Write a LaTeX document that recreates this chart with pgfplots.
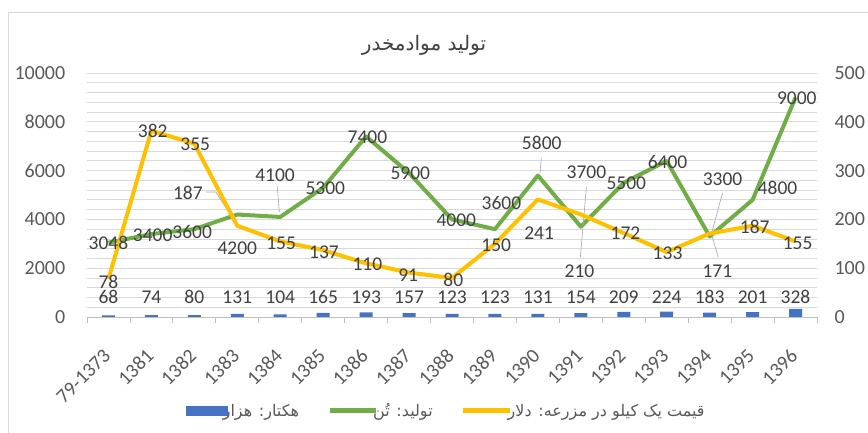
\documentclass[border=0pt]{standalone}
\usepackage{pgfplots}
\pgfplotsset{compat=1.18}
\usepackage{pgfplotstable}
\usepackage{fontspec}
\setmainfont{Carlito}
\newfontfamily\arabicfont[Script=Arabic]{DejaVu Sans}
\TeXXeTstate=1
\definecolor{cblue}{HTML}{4472C4}
\definecolor{cgreen}{HTML}{70AD47}
\definecolor{cyellow}{HTML}{FFC000}
\definecolor{ctick}{HTML}{595959}
\definecolor{clab}{HTML}{404040}
\definecolor{cgrid}{HTML}{D9D9D9}
\definecolor{caxis}{HTML}{BFBFBF}

\pgfplotstableread{
x v
0 68
1 74
2 80
3 131
4 104
5 165
6 193
7 157
8 123
9 123
10 131
11 154
12 209
13 224
14 183
15 201
16 328
}\hectares

\pgfplotstableread{
x v
0 3048
1 3400
2 3600
3 4200
4 4100
5 5300
6 7400
7 5900
8 4000
9 3600
10 5800
11 3700
12 5500
13 6400
14 3300
15 4800
16 9000
}\production

\pgfplotstableread{
x v
0 78
1 382
2 355
3 187
4 155
5 137
6 110
7 91
8 80
9 150
10 241
11 210
12 172
13 133
14 171
15 187
16 155
}\price

% label positions (in left-axis units) and texts
\pgfplotstableread{
x v t
0.00 3030 3048
1.03 3360 3400
1.95 3480 3600
3.00 2830 4200
3.88 5820 4100
5.05 5287 5300
6.03 7377 7400
7.03 5900 5900
8.10 3975 4000
9.15 4672 3600
10.09 7131 5800
11.13 5943 3700
12.06 5492 5500
13.02 6352 6400
14.30 5656 3300
15.58 5287 4800
16.03 8975 9000
0.00 1430 78
1.03 7623 382
2.02 7090 355
1.85 5082 187
4.02 3030 155
5.02 2660 137
6.03 2170 110
6.98 1720 91
8.03 1516 80
9.03 2950 150
10.03 3440 241
10.97 1890 210
12.04 3440 172
13.02 2620 133
14.18 1890 171
15.05 3690 187
16.05 3030 155
0 820 68
1 820 74
2 820 80
3 820 131
4 820 104
5 820 165
6 820 193
7 820 157
8 820 123
9 820 123
10 820 131
11 820 154
12 820 209
13 820 224
14 820 183
15 820 201
16 820 328
}\labels

\begin{document}
\begin{tikzpicture}[x=1pt,y=1pt]
\useasboundingbox (0,0) rectangle (868,433);
\draw[cgrid, line width=0.8pt] (8,0) -- (8,421) -- (868,421);
\node[font=\arabicfont\fontsize{20}{24}\selectfont, text=clab] at (424,388) {\beginR تولید موادمخدر\endR};

\begin{axis}[
  at={(87pt,116pt)}, anchor=south west,
  width=730pt, height=244pt, scale only axis,
  xmin=-0.5, xmax=16.5, ymin=0, ymax=10000,
  scaled y ticks=false,
  axis x line*=bottom, axis y line*=left,
  x axis line style={-, draw=caxis, line width=0.8pt},
  y axis line style={draw=none},
  xtick={0,...,16},
  xticklabels={79-1373,1381,1382,1383,1384,1385,1386,1387,1388,1389,1390,1391,1392,1393,1394,1395,1396},
  minor xtick={-0.5,0.5,...,16.5},
  major x tick style={draw=none},
  minor x tick style={draw=caxis, line width=0.8pt},
  tick align=outside, minor tick length=6pt,
  ytick={0,2000,...,10000},
  minor y tick num=4,
  ymajorgrids, yminorgrids,
  major grid style={cgrid, line width=0.8pt},
  minor grid style={cgrid, line width=0.8pt},
  major y tick style={draw=none}, minor y tick style={draw=none},
  /pgf/number format/1000 sep={},
  /pgf/number format/assume math mode=true,
  yticklabel style={font=\fontsize{20}{24}\selectfont, text=ctick, xshift=-14pt},
  xticklabel style={font=\fontsize{20}{24}\selectfont, text=ctick, xshift=1pt, yshift=-29pt, rotate=45, anchor=east},
  legend style={at={(0.492,-0.385)}, anchor=center, draw=none, fill=none,
    legend columns=3, font=\arabicfont\fontsize{16}{19}\selectfont, text=ctick,
    /tikz/every odd column/.append style={column sep=-7pt},
    /tikz/every even column/.append style={column sep=26pt}},
  clip=false,
]
\addplot[ybar, bar width=13pt, fill=cblue, draw=none,
  legend image code/.code={\fill[cblue] (0pt,-5pt) rectangle (42pt,5pt);}]
  table[x=x,y=v]{\hectares};
\addlegendentry{\beginR هکتار: هزار\endR}
\addplot[cgreen, line width=4pt, line join=round,
  legend image code/.code={\draw[cgreen, line width=5pt] (0pt,0pt)--(46pt,0pt);}]
  table[x=x,y=v]{\production};
\addlegendentry{\beginR تولید: تُن\endR}
\addlegendimage{legend image code/.code={\draw[cyellow, line width=5pt] (0pt,0pt)--(47pt,0pt);}}
\addlegendentry{\beginR قیمت یک کیلو در مزرعه: دلار\endR}
% leader lines
\addplot[forget plot, gray!70, line width=0.6pt] coordinates {(2.28,5122) (2.5,5122) (2.98,3811)};
\addplot[forget plot, gray!70, line width=0.6pt] coordinates {(3.93,5350) (3.98,4300)};
\addplot[forget plot, gray!70, line width=0.6pt] coordinates {(10.08,6520) (10.05,5900)};
\addplot[forget plot, gray!70, line width=0.6pt] coordinates {(11.13,5328) (10.99,2459)};
\addplot[forget plot, gray!70, line width=0.6pt] coordinates {(14.3,5082) (14.04,3400) (14.2,2459)};
\end{axis}

\begin{axis}[
  at={(87pt,116pt)}, anchor=south west,
  width=730pt, height=244pt, scale only axis,
  xmin=-0.5, xmax=16.5, ymin=0, ymax=500,
  hide x axis,
  axis y line*=right,
  y axis line style={draw=none},
  ytick={0,100,...,500},
  major y tick style={draw=none},
  /pgf/number format/assume math mode=true,
  yticklabel style={font=\fontsize{20}{24}\selectfont, text=ctick, xshift=14pt},
  clip=false,
]
\addplot[cyellow, line width=4pt, line join=round] table[x=x,y=v]{\price};
\addplot[forget plot, draw=none, mark=none, nodes near coords, point meta=explicit symbolic,
  nodes near coords align=center,
  every node near coord/.style={font=\fontsize{19.5}{22}\selectfont, text=clab, anchor=center, inner sep=0pt}]
  table[x=x, y expr=\thisrow{v}/20, meta=t]{\labels};
\end{axis}
\end{tikzpicture}
\end{document}
